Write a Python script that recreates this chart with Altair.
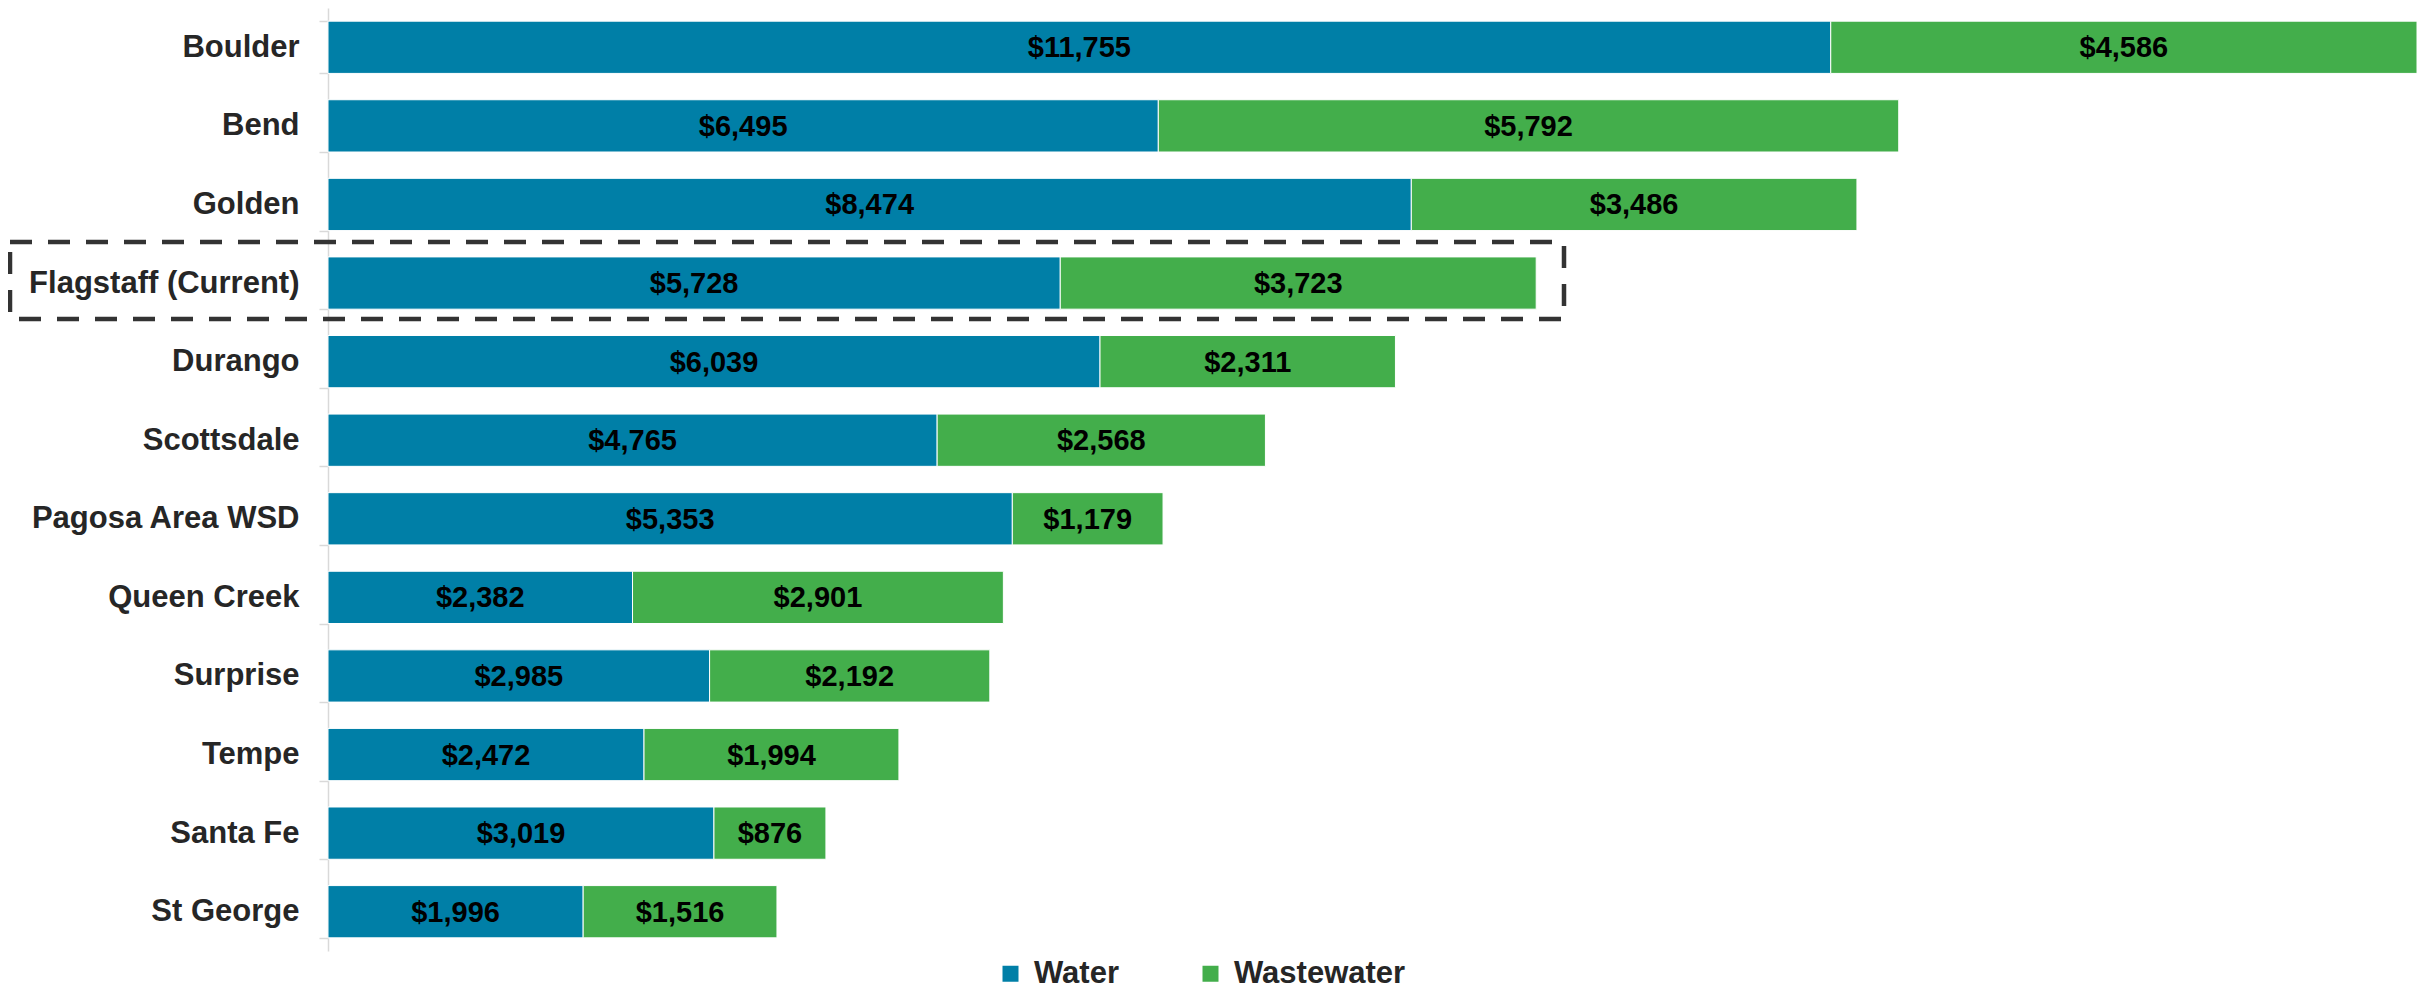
import altair as alt
import pandas as pd

cities = ["Boulder", "Bend", "Golden", "Flagstaff (Current)", "Durango", "Scottsdale",
          "Pagosa Area WSD", "Queen Creek", "Surprise", "Tempe", "Santa Fe", "St George"]
water = [11755, 6495, 8474, 5728, 6039, 4765, 5353, 2382, 2985, 2472, 3019, 1996]
wastewater = [4586, 5792, 3486, 3723, 2311, 2568, 1179, 2901, 2192, 1994, 876, 1516]
series = ["Water", "Wastewater"]
colors = ["#007FA7", "#43AE4B"]
highlight = "Flagstaff (Current)"

rows = []
for c, w, ww in zip(cities, water, wastewater):
    rows.append({"city": c, "type": series[0], "value": w, "start": 0, "end": w})
    rows.append({"city": c, "type": series[1], "value": ww, "start": w, "end": w + ww})
df = pd.DataFrame(rows)
df["mid"] = (df["start"] + df["end"]) / 2
xmax = max(w + ww for w, ww in zip(water, wastewater))

FONT = "Liberation Sans"

yenc = alt.Y(
    "city:N", sort=cities, title=None,
    scale=alt.Scale(paddingInner=0.335, paddingOuter=0.1675),
    axis=alt.Axis(
        labelFontSize=31, labelFont=FONT, labelFontWeight="bold", labelColor="#262626",
        labelLimit=400, labelPadding=20, tickSize=9, tickColor="#D9D9D9", tickWidth=1.5,
        domainColor="#D9D9D9", domainWidth=1.5, tickBand="extent", grid=False,
    ),
)

base = alt.Chart(df)

bars = base.mark_bar(stroke="white", strokeWidth=1).encode(
    x=alt.X("start:Q", title=None, axis=None,
            scale=alt.Scale(domain=[0, xmax], nice=False, zero=True)),
    x2="end:Q",
    y=yenc,
    color=alt.Color(
        "type:N",
        scale=alt.Scale(domain=series, range=colors),
        legend=alt.Legend(
            title=None, orient="none", legendX=667, legendY=950, direction="horizontal",
            symbolType="square", symbolSize=256, symbolStrokeWidth=0,
            labelFontSize=31, labelFont=FONT, labelFontWeight="bold", labelColor="#262626",
            labelOffset=8, columnPadding=76, labelLimit=400, padding=0,
        ),
    ),
)

labels = base.mark_text(
    fontSize=29, fontWeight="bold", font=FONT, color="black",
    align="center", baseline="middle", dy=1,
).encode(
    x=alt.X("mid:Q", title=None),
    y=alt.Y("city:N", sort=cities),
    text=alt.Text("value:Q", format="$,.0f"),
)

box = alt.Chart(pd.DataFrame({"city": [highlight]})).mark_rect(
    fillOpacity=0, stroke="#333333", strokeWidth=4.5, strokeDash=[22, 16],
).encode(
    x=alt.value(-318), x2=alt.value(1236), y=alt.value(234), y2=alt.value(311),
)

chart = alt.layer(bars, labels, box).properties(
    width=2089, height=943,
    padding={"left": 320, "top": 0, "right": 2, "bottom": 45},
    autosize=alt.AutoSizeParams(type="none"),
).configure_view(stroke=None)

chart.save("out.html", embed_options={"renderer": "svg", "actions": False})
